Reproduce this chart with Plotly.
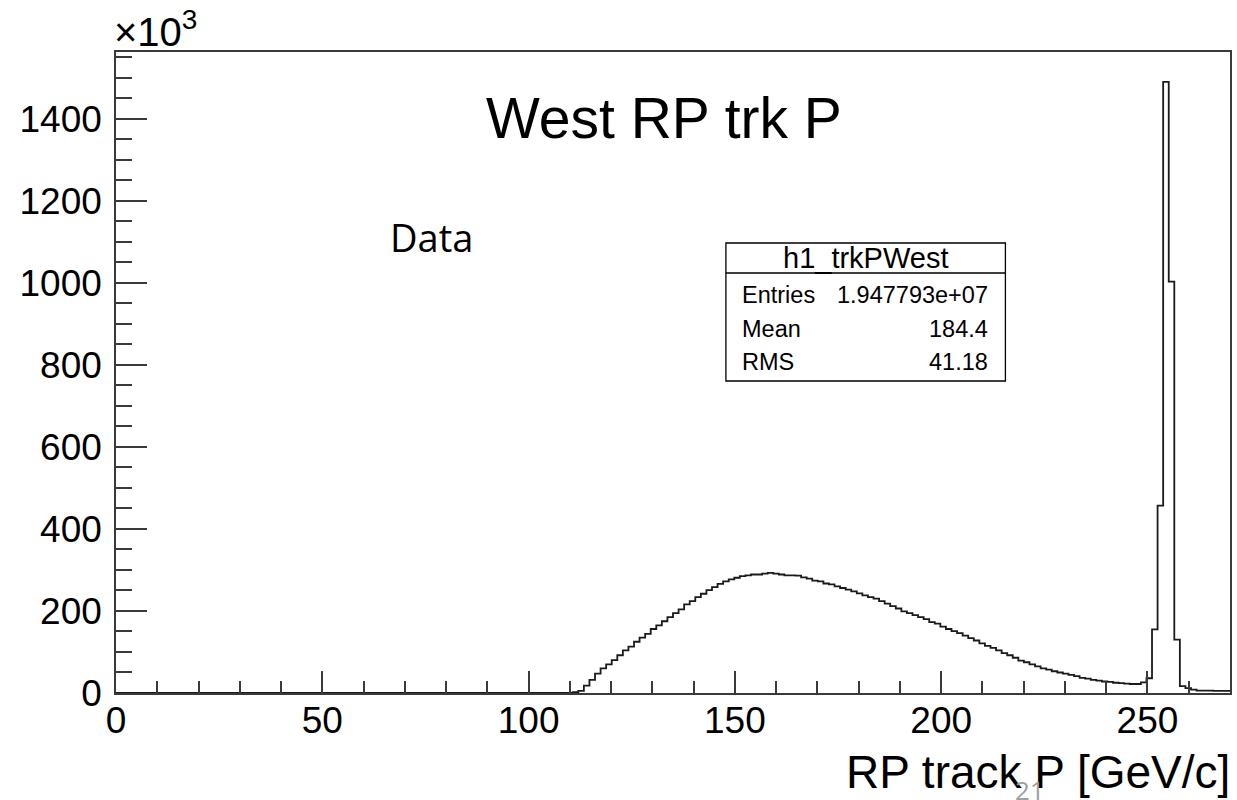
import numpy as np
import plotly.graph_objects as go

# ---- data (counts in units of 10^3), 200 bins from 0 to 270 GeV/c ----
x_min = 0.0
x_max = 270.0
n_bins = 200

empty_bins = [0, 0, 0, 0, 0, 0, 0, 0, 0, 0, 0, 0, 0, 0, 0, 0, 0, 0, 0, 0,
              0, 0, 0, 0, 0, 0, 0, 0, 0, 0, 0, 0, 0, 0, 0, 0, 0, 0, 0, 0,
              0, 0, 0, 0, 0, 0, 0, 0, 0, 0, 0, 0, 0, 0, 0, 0, 0, 0, 0, 0,
              0, 0, 0, 0, 0, 0, 0, 0, 0, 0, 0, 0, 0, 0, 0, 0, 0, 0, 0, 0,
              0, 0]
filled_bins = [2, 5, 18, 32, 47, 60, 70, 80, 92, 104,
               113, 125, 135, 144, 156, 165, 175, 185, 195, 204,
               216, 224, 234, 242, 251, 258, 266, 272, 277, 281,
               285, 287, 289, 289, 291, 293, 291, 289, 287, 287,
               286, 282, 279, 274, 272, 267, 265, 260, 256, 252,
               248, 243, 238, 234, 230, 224, 218, 212, 206, 199,
               195, 190, 185, 180, 173, 169, 162, 156, 151, 146,
               140, 134, 128, 121, 115, 110, 104, 97, 92, 86,
               79, 75, 70, 65, 60, 57, 53, 50, 47, 44,
               41, 37, 35, 32, 30, 28, 27, 25, 24, 23,
               22, 22, 26, 36, 155, 457, 1490, 1003, 130, 17,
               12, 8, 6, 6, 6, 5, 5, 5]
counts = empty_bins + filled_bins

x_ticks = [0, 50, 100, 150, 200, 250]
y_ticks = [0, 200, 400, 600, 800, 1000, 1200, 1400]
y_max = 1563

title_text = "West RP trk P"
x_title = "RP track P [GeV/c]"
stats_name = "h1_trkPWest"
stats_rows = [("Entries", "1.947793e+07"), ("Mean", "184.4"), ("RMS", "41.18")]

# ---- geometry ----
W, H = 1237, 800
L, R, T, B = 116, 1232, 52, 693


def px(xp):
    return (xp - L) / (R - L)


def py(yp):
    return (B - yp) / (B - T)


edges = np.linspace(x_min, x_max, n_bins + 1)
xs = list(edges)
ys = list(counts) + [counts[-1]]

FONT = "Liberation Sans, Arial, Helvetica, sans-serif"
AX = "#3a3a3a"

fig = go.Figure()
fig.add_trace(go.Scatter(x=xs, y=ys, mode="lines", line=dict(shape="hv", color="#1a1a1a", width=1.8),
                         hoverinfo="skip", showlegend=False))

fig.update_layout(
    width=W, height=H,
    margin=dict(l=L, r=W - R, t=T, b=H - B, pad=0),
    paper_bgcolor="white", plot_bgcolor="white",
    showlegend=False,
    font=dict(family=FONT, color="black"),
)

fig.update_xaxes(
    range=[x_min, x_max], tickmode="array", tickvals=x_ticks, ticktext=[str(v) for v in x_ticks],
    ticks="inside", ticklen=22, tickwidth=1.5, tickcolor=AX,
    minor=dict(ticks="inside", ticklen=12, dtick=10, tickwidth=1.5, tickcolor=AX, showgrid=False),
    showline=True, linecolor=AX, linewidth=1.5, mirror=True,
    showgrid=False, zeroline=False,
    tickfont=dict(size=37, family=FONT, color="black"), ticklabelstandoff=-6,
)
fig.update_yaxes(
    range=[0, y_max], tickmode="array", tickvals=y_ticks, ticktext=[str(v) for v in y_ticks],
    ticks="inside", ticklen=31, tickwidth=1.5, tickcolor=AX,
    minor=dict(ticks="inside", ticklen=16, dtick=50, tickwidth=1.5, tickcolor=AX, showgrid=False),
    showline=True, linecolor=AX, linewidth=1.5, mirror=True,
    showgrid=False, zeroline=False,
    tickfont=dict(size=37, family=FONT, color="black"), ticklabelstandoff=5,
)

ann = []
# exponent label
ann.append(dict(x=px(112), y=py(56), xref="paper", yref="paper", xanchor="left", yanchor="bottom",
                text="×10<sup>3</sup>", showarrow=False, font=dict(size=40, family=FONT, color="black")))
# main title
ann.append(dict(x=px(665), y=py(118), xref="paper", yref="paper", xanchor="center", yanchor="middle",
                text=title_text, showarrow=False, font=dict(size=57, family=FONT, color="black")))
# Data label
ann.append(dict(x=px(388), y=py(237), xref="paper", yref="paper", xanchor="left", yanchor="middle",
                text="Data", showarrow=False, font=dict(size=38, family="Open Sans, Noto Sans, sans-serif", color="black")))
# x-axis title
ann.append(dict(x=px(1234), y=py(772), xref="paper", yref="paper", xanchor="right", yanchor="middle",
                text=x_title, showarrow=False, font=dict(size=46, family=FONT, color="black")))
# page number
ann.append(dict(x=px(1032), y=py(770), xref="paper", yref="paper", xanchor="center", yanchor="top",
                text="21", showarrow=False, font=dict(size=26, family="Open Sans, Noto Sans, sans-serif", color="#a0a0a0")))

# stats box
bx0, bx1, by0, by1, bsep = 727, 1007, 243, 381, 273
shapes = [
    dict(type="rect", xref="paper", yref="paper", x0=px(bx0), x1=px(bx1), y0=py(by1), y1=py(by0),
         line=dict(color="black", width=1.3), fillcolor="white", layer="above"),
    dict(type="line", xref="paper", yref="paper", x0=px(bx0), x1=px(bx1), y0=py(bsep), y1=py(bsep),
         line=dict(color="black", width=1.3), layer="above"),
]
ann.append(dict(x=px((bx0 + bx1) / 2), y=py(258), xref="paper", yref="paper", xanchor="center", yanchor="middle",
                text=stats_name, showarrow=False, font=dict(size=29, family=FONT, color="black")))
row_y = [295, 329, 362]
for (lab, val), yy in zip(stats_rows, row_y):
    ann.append(dict(x=px(741), y=py(yy), xref="paper", yref="paper", xanchor="left", yanchor="middle",
                    text=lab, showarrow=False, font=dict(size=23.5, family=FONT, color="black")))
    ann.append(dict(x=px(992), y=py(yy), xref="paper", yref="paper", xanchor="right", yanchor="middle",
                    text=val, showarrow=False, font=dict(size=23.5, family=FONT, color="black")))

fig.update_layout(annotations=ann, shapes=shapes)
fig.write_html("out.html")
